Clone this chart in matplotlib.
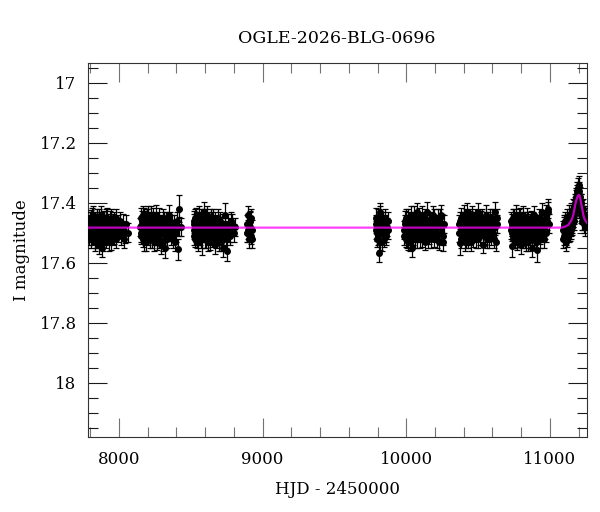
import matplotlib
matplotlib.use("Agg")
import matplotlib.pyplot as plt
from matplotlib.ticker import MultipleLocator, FuncFormatter

# observing seasons: (HJD-2450000, I mag, error)
season1 = [(7786,17.47,.030),(7790,17.50,.030),(7795,17.46,.028),(7799,17.49,.032),(7803,17.52,.030),
           (7806,17.45,.027),(7811,17.48,.031),(7815,17.51,.030),(7818,17.47,.029),(7822,17.44,.030),
           (7826,17.50,.033),(7830,17.53,.030),(7834,17.46,.028),(7837,17.49,.030),(7841,17.48,.031),
           (7845,17.45,.029),(7849,17.52,.030),(7853,17.47,.032),(7858,17.50,.028),(7862,17.54,.030),
           (7866,17.46,.029),(7870,17.49,.031),(7874,17.44,.030),(7879,17.55,.032),(7884,17.48,.030),
           (7889,17.51,.028),(7894,17.46,.031),(7899,17.49,.030),(7905,17.47,.029),(7911,17.52,.030),
           (7917,17.45,.031),(7923,17.50,.028),(7930,17.48,.030),(7937,17.46,.032),(7944,17.53,.029),
           (7952,17.49,.030),(7960,17.47,.031),(7968,17.51,.029),(7977,17.45,.030),(7986,17.48,.028),
           (7996,17.50,.031),(8007,17.46,.030),(8020,17.49,.029),(8035,17.52,.032),(8052,17.47,.030),
           (8065,17.50,.031),
           (7788,17.48,.030),(7793,17.51,.030),(7801,17.46,.029),(7808,17.50,.030),(7813,17.45,.031),
           (7820,17.49,.030),(7828,17.47,.029),(7832,17.50,.030),(7839,17.52,.031),(7847,17.46,.030),
           (7855,17.49,.029),(7860,17.45,.030),(7868,17.51,.031),(7876,17.48,.030),(7881,17.46,.029),
           (7887,17.53,.030),(7896,17.48,.031),(7902,17.51,.030),(7908,17.45,.029),(7914,17.49,.030),
           (7920,17.47,.031),(7927,17.53,.030),(7934,17.50,.029),(7941,17.45,.030),(7948,17.48,.031),
           (7956,17.51,.030),(7964,17.46,.029),(7973,17.49,.030),(7982,17.52,.031),(7991,17.47,.030),
           (8001,17.49,.029),(8013,17.51,.030),(8027,17.47,.031),(8044,17.50,.035)]
season2 = [(8148,17.48,.030),(8152,17.45,.031),(8156,17.51,.029),(8160,17.47,.030),(8164,17.50,.031),
           (8168,17.44,.030),(8172,17.49,.029),(8176,17.53,.030),(8180,17.46,.031),(8184,17.48,.030),
           (8188,17.51,.029),(8192,17.45,.030),(8196,17.50,.031),(8200,17.47,.030),(8205,17.44,.029),
           (8210,17.49,.030),(8215,17.52,.031),(8220,17.46,.030),(8225,17.48,.029),(8230,17.50,.030),
           (8236,17.45,.031),(8242,17.53,.030),(8248,17.47,.029),(8254,17.49,.030),(8260,17.44,.031),
           (8266,17.51,.030),(8272,17.46,.029),(8278,17.48,.030),(8284,17.50,.031),(8290,17.54,.030),
           (8297,17.47,.029),(8304,17.45,.030),(8311,17.49,.031),(8318,17.52,.030),(8321,17.55,.035),
           (8328,17.46,.030),(8335,17.50,.029),(8343,17.48,.030),(8351,17.44,.031),(8360,17.51,.030),
           (8370,17.47,.029),(8380,17.49,.030),(8392,17.53,.031),(8404,17.46,.030),(8410,17.555,.035),
           (8421,17.42,.045),(8432,17.48,.030),
           (8150,17.50,.030),(8158,17.46,.031),(8162,17.48,.030),(8166,17.52,.029),(8170,17.47,.030),
           (8174,17.45,.031),(8178,17.50,.030),(8182,17.49,.029),(8186,17.46,.030),(8190,17.53,.031),
           (8194,17.48,.030),(8198,17.45,.029),(8202,17.51,.030),(8208,17.48,.031),(8212,17.46,.030),
           (8218,17.50,.029),(8222,17.44,.030),(8228,17.52,.031),(8233,17.47,.030),(8239,17.49,.029),
           (8245,17.46,.030),(8251,17.51,.031),(8257,17.48,.030),(8263,17.53,.029),(8269,17.49,.030),
           (8275,17.45,.031),(8281,17.52,.030),(8287,17.47,.029),(8294,17.50,.030),(8300,17.48,.031),
           (8307,17.53,.030),(8314,17.46,.029),(8324,17.49,.030),(8331,17.52,.031),(8339,17.47,.030),
           (8347,17.50,.029),(8356,17.46,.030),(8365,17.49,.031),(8375,17.52,.030),(8386,17.47,.029),
           (8398,17.50,.030),(8416,17.48,.031)]
season3 = [(8519,17.49,.030),(8523,17.46,.031),(8527,17.52,.029),(8531,17.48,.030),(8535,17.45,.032),
           (8539,17.50,.030),(8543,17.47,.028),(8547,17.53,.031),(8551,17.46,.030),(8555,17.49,.029),
           (8559,17.44,.030),(8563,17.51,.031),(8567,17.48,.030),(8571,17.45,.028),(8575,17.50,.030),
           (8580,17.52,.055),(8585,17.47,.030),(8590,17.43,.031),(8595,17.49,.029),(8600,17.46,.030),
           (8605,17.52,.032),(8610,17.48,.030),(8615,17.44,.029),(8620,17.50,.031),(8626,17.47,.030),
           (8632,17.53,.028),(8638,17.45,.030),(8644,17.49,.031),(8650,17.46,.030),(8656,17.51,.029),
           (8662,17.48,.030),(8668,17.54,.031),(8675,17.47,.030),(8682,17.50,.032),(8689,17.45,.029),
           (8697,17.53,.030),(8705,17.48,.031),(8713,17.51,.030),(8722,17.55,.031),(8731,17.49,.030),
           (8740,17.44,.040),(8751,17.56,.035),(8763,17.50,.030),(8776,17.48,.029),(8790,17.47,.031),
           (8805,17.48,.030),
           (8521,17.51,.030),(8525,17.47,.031),(8529,17.45,.030),(8533,17.50,.029),(8537,17.48,.030),
           (8541,17.52,.031),(8545,17.46,.030),(8549,17.49,.029),(8553,17.51,.030),(8557,17.47,.031),
           (8561,17.49,.030),(8565,17.46,.029),(8569,17.52,.030),(8573,17.47,.031),(8578,17.49,.030),
           (8583,17.45,.029),(8588,17.50,.030),(8593,17.47,.031),(8598,17.52,.030),(8603,17.45,.029),
           (8608,17.50,.030),(8613,17.47,.031),(8618,17.53,.030),(8623,17.46,.029),(8629,17.49,.030),
           (8635,17.51,.031),(8641,17.47,.030),(8647,17.52,.029),(8653,17.45,.030),(8659,17.50,.031),
           (8665,17.46,.030),(8671,17.49,.029),(8678,17.52,.030),(8686,17.48,.031),(8693,17.50,.030),
           (8701,17.46,.029),(8709,17.53,.030),(8717,17.47,.031),(8726,17.51,.030),(8736,17.48,.029),
           (8746,17.52,.030),(8757,17.47,.031),(8770,17.51,.030),(8783,17.46,.029),(8798,17.50,.030)]
season4 = [(8892,17.47,.028),(8895,17.50,.030),(8898,17.44,.029),(8901,17.49,.031),(8905,17.52,.030),
           (8909,17.46,.028),(8913,17.48,.030),(8917,17.51,.029),(8921,17.45,.030),(8925,17.49,.031),
           (8893,17.50,.030),(8900,17.47,.029),(8907,17.49,.030),(8915,17.46,.031),(8923,17.52,.030)]
season5 = [(9787,17.49,.030),(9792,17.45,.031),(9797,17.52,.029),(9802,17.47,.030),(9808,17.567,.030),
           (9813,17.50,.031),(9818,17.44,.030),(9820,17.43,.030),(9824,17.48,.029),(9830,17.53,.031),
           (9836,17.46,.030),(9843,17.50,.030),(9850,17.47,.029),(9858,17.51,.031),(9867,17.48,.030),
           (9876,17.49,.031),
           (9789,17.47,.030),(9795,17.50,.029),(9800,17.45,.030),(9805,17.51,.031),(9811,17.48,.030),
           (9816,17.53,.029),(9827,17.46,.030),(9833,17.50,.031),(9840,17.47,.030),(9847,17.52,.029),
           (9854,17.45,.030),(9862,17.50,.031),(9871,17.46,.030)]
season6 = [(9985,17.49,.030),(9990,17.46,.031),(9995,17.52,.029),(10000,17.48,.030),(10005,17.50,.031),
           (10010,17.45,.030),(10015,17.53,.029),(10020,17.47,.030),(10025,17.49,.031),(10030,17.44,.030),
           (10036,17.51,.029),(10042,17.55,.031),(10048,17.48,.030),(10054,17.46,.029),(10060,17.52,.030),
           (10066,17.47,.031),(10072,17.43,.030),(10078,17.50,.029),(10084,17.48,.030),(10090,17.45,.031),
           (10097,17.52,.030),(10104,17.47,.029),(10111,17.44,.030),(10118,17.50,.031),(10125,17.46,.030),
           (10132,17.53,.029),(10139,17.48,.030),(10146,17.43,.031),(10153,17.49,.030),(10160,17.51,.029),
           (10168,17.46,.030),(10176,17.48,.031),(10184,17.44,.030),(10192,17.52,.029),(10200,17.47,.030),
           (10209,17.50,.031),(10218,17.45,.030),(10227,17.53,.029),(10236,17.48,.030),(10245,17.44,.031),
           (10254,17.51,.030),(10262,17.47,.030),
           (9987,17.51,.030),(9993,17.47,.029),(9998,17.45,.030),(10003,17.52,.031),(10008,17.48,.030),
           (10013,17.46,.029),(10018,17.50,.030),(10023,17.53,.031),(10028,17.47,.030),(10033,17.49,.029),
           (10039,17.46,.030),(10045,17.51,.031),(10051,17.49,.030),(10057,17.44,.029),(10063,17.50,.030),
           (10069,17.48,.031),(10075,17.52,.030),(10081,17.46,.029),(10087,17.50,.030),(10094,17.47,.031),
           (10101,17.49,.030),(10108,17.52,.029),(10115,17.47,.030),(10122,17.49,.031),(10129,17.45,.030),
           (10136,17.50,.029),(10143,17.47,.030),(10150,17.52,.031),(10157,17.46,.030),(10164,17.49,.029),
           (10172,17.52,.030),(10180,17.47,.031),(10188,17.49,.030),(10196,17.45,.029),(10205,17.48,.030),
           (10214,17.52,.031),(10223,17.47,.030),(10232,17.45,.029),(10241,17.50,.030),(10250,17.47,.031),
           (10259,17.53,.030)]
season7 = [(10368,17.47,.030),(10374,17.533,.040),(10379,17.49,.030),(10384,17.45,.031),(10389,17.51,.029),
           (10394,17.48,.030),(10399,17.44,.031),(10404,17.50,.030),(10409,17.46,.029),(10414,17.52,.030),
           (10419,17.48,.031),(10424,17.43,.030),(10430,17.49,.029),(10436,17.51,.030),(10442,17.46,.031),
           (10448,17.53,.030),(10454,17.47,.029),(10460,17.44,.030),(10466,17.50,.031),(10472,17.48,.030),
           (10478,17.45,.029),(10485,17.52,.030),(10492,17.47,.031),(10499,17.43,.030),(10506,17.49,.029),
           (10513,17.51,.030),(10520,17.46,.031),(10528,17.48,.030),(10536,17.54,.029),(10544,17.47,.030),
           (10552,17.44,.031),(10560,17.50,.030),(10568,17.46,.029),(10577,17.52,.030),(10586,17.48,.031),
           (10595,17.45,.030),(10605,17.50,.029),(10615,17.43,.031),(10625,17.53,.030),(10634,17.47,.030),
           (10370,17.50,.030),(10376,17.46,.029),(10381,17.52,.030),(10386,17.48,.031),(10391,17.46,.030),
           (10396,17.51,.029),(10401,17.47,.030),(10406,17.53,.031),(10411,17.49,.030),(10416,17.45,.029),
           (10421,17.50,.030),(10427,17.47,.031),(10433,17.52,.030),(10439,17.48,.029),(10445,17.45,.030),
           (10451,17.50,.031),(10457,17.48,.030),(10463,17.52,.029),(10469,17.46,.030),(10475,17.49,.031),
           (10481,17.47,.030),(10488,17.50,.029),(10495,17.46,.030),(10502,17.52,.031),(10509,17.47,.030),
           (10516,17.49,.029),(10524,17.45,.030),(10532,17.50,.031),(10540,17.48,.030),(10548,17.51,.029),
           (10556,17.46,.030),(10564,17.52,.031),(10572,17.48,.030),(10581,17.45,.029),(10590,17.51,.030),
           (10600,17.47,.031),(10610,17.52,.030),(10620,17.48,.029),(10630,17.45,.030)]
season8 = [(10729,17.49,.030),(10733,17.545,.035),(10737,17.47,.031),(10741,17.51,.029),(10745,17.45,.030),
           (10749,17.49,.031),(10753,17.52,.030),(10757,17.46,.029),(10761,17.48,.030),(10765,17.44,.031),
           (10769,17.50,.030),(10773,17.53,.029),(10777,17.47,.030),(10781,17.49,.031),(10785,17.45,.030),
           (10790,17.51,.029),(10795,17.48,.030),(10800,17.54,.031),(10805,17.46,.030),(10810,17.50,.029),
           (10815,17.44,.030),(10820,17.48,.031),(10826,17.52,.030),(10832,17.47,.029),(10838,17.49,.030),
           (10844,17.45,.031),(10850,17.53,.030),(10856,17.48,.029),(10862,17.50,.030),(10868,17.46,.031),
           (10875,17.55,.030),(10882,17.49,.029),(10889,17.44,.030),(10896,17.51,.031),(10903,17.47,.030),
           (10907,17.558,.040),(10914,17.50,.030),(10921,17.45,.029),(10928,17.52,.031),(10936,17.48,.030),
           (10944,17.43,.030),(10952,17.50,.031),(10960,17.46,.029),(10968,17.49,.030),(10976,17.44,.032),
           (10984,17.43,.033),(10992,17.47,.031),
           (10731,17.46,.030),(10735,17.50,.029),(10739,17.48,.030),(10743,17.52,.031),(10747,17.47,.030),
           (10751,17.45,.029),(10755,17.50,.030),(10759,17.52,.031),(10763,17.47,.030),(10767,17.49,.029),
           (10771,17.46,.030),(10775,17.51,.031),(10779,17.48,.030),(10783,17.52,.029),(10788,17.47,.030),
           (10793,17.45,.031),(10798,17.50,.030),(10803,17.48,.029),(10808,17.52,.030),(10813,17.47,.031),
           (10818,17.51,.030),(10823,17.46,.029),(10829,17.49,.030),(10835,17.53,.031),(10841,17.48,.030),
           (10847,17.46,.029),(10853,17.51,.030),(10859,17.47,.031),(10865,17.52,.030),(10872,17.48,.029),
           (10879,17.46,.030),(10886,17.52,.031),(10893,17.48,.030),(10900,17.53,.029),(10910,17.47,.030),
           (10918,17.50,.031),(10925,17.47,.030),(10932,17.51,.029),(10940,17.46,.030),(10948,17.48,.031),
           (10956,17.52,.030),(10964,17.47,.029),(10972,17.50,.030),(10980,17.46,.031),(10988,17.42,.032)]
season9 = [(11092,17.49,.030),(11096,17.47,.030),(11100,17.51,.031),(11104,17.46,.030),(11108,17.50,.029),
           (11112,17.53,.030),(11116,17.48,.031),(11120,17.45,.030),(11124,17.50,.029),(11128,17.47,.030),
           (11132,17.44,.031),(11136,17.49,.030),(11140,17.46,.029),(11144,17.48,.030),(11148,17.44,.031),
           (11152,17.47,.030),(11156,17.43,.029),(11160,17.45,.030),(11164,17.42,.031),(11168,17.44,.030),
           (11172,17.40,.029),(11176,17.43,.030),(11180,17.39,.031),(11184,17.41,.030),(11188,17.37,.029),
           (11192,17.40,.030),(11196,17.35,.031),(11200,17.38,.030),(11204,17.36,.029),(11208,17.40,.030),
           (11212,17.38,.031),(11216,17.42,.030),(11220,17.40,.029),(11224,17.44,.030),(11228,17.42,.031),
           (11232,17.46,.030),(11236,17.44,.029),(11240,17.47,.030),(11244,17.45,.031),(11248,17.48,.030),
           (11252,17.46,.030),
           (11094,17.52,.030),(11098,17.48,.031),(11102,17.50,.030),(11106,17.47,.029),(11110,17.49,.030),
           (11114,17.51,.031),(11118,17.47,.030),(11122,17.52,.029),(11126,17.48,.030),(11130,17.50,.031),
           (11134,17.46,.030),(11138,17.50,.029),(11142,17.45,.030),(11146,17.49,.031),(11150,17.46,.030),
           (11154,17.48,.029),(11158,17.45,.030),(11162,17.44,.031),(11166,17.46,.030),(11170,17.42,.029),
           (11174,17.41,.030),(11178,17.42,.031),(11182,17.38,.030),(11186,17.40,.029),(11190,17.36,.030),
           (11194,17.38,.031),(11198,17.37,.030),(11202,17.34,.029),(11206,17.39,.030),(11210,17.41,.031),
           (11214,17.40,.030),(11218,17.44,.029),(11222,17.42,.030),(11226,17.46,.031),(11230,17.44,.030)]
seasons = [season1, season2, season3, season4, season5, season6, season7, season8, season9]

# model curve
model_t = [7782, 11050, 11081, 11105, 11128, 11151, 11163, 11174, 11182, 11190, 11196, 11202,
           11208, 11216, 11225, 11233, 11242, 11251, 11258]
model_m = [17.483, 17.483, 17.483, 17.480, 17.474, 17.458, 17.440, 17.413, 17.395, 17.382, 17.376, 17.374,
           17.378, 17.397, 17.420, 17.441, 17.455, 17.463, 17.467]

plt.rcParams["font.family"] = "DejaVu Serif"

fig = plt.figure(figsize=(6, 5.12), dpi=100)
ax = fig.add_axes([0.1462, 0.1471, 0.8313, 0.7305])

for season in seasons:
    t, m, e = zip(*season)
    ax.errorbar(t, m, yerr=e, fmt="o", color="black", ms=4,
                elinewidth=0.9, capsize=2.3, capthick=0.9, zorder=3)

ax.plot(model_t, model_m, color="magenta", lw=1.6, alpha=0.75, zorder=5)

ax.set_xlim(7782, 11255)
ax.set_ylim(18.18, 16.933)

ax.xaxis.set_major_locator(MultipleLocator(1000))
ax.xaxis.set_minor_locator(MultipleLocator(200))
ax.yaxis.set_major_locator(MultipleLocator(0.2))
ax.yaxis.set_minor_locator(MultipleLocator(0.05))
ax.yaxis.set_major_formatter(FuncFormatter(lambda v, p: "%g" % round(v, 2)))

ax.tick_params(which="both", direction="in", top=True, right=True, labelsize=12)
ax.tick_params(which="major", length=13.5, width=0.8)
ax.tick_params(which="minor", length=7, width=0.8)
ax.tick_params(axis="x", which="both", color="0.45", pad=10)
ax.tick_params(axis="y", which="both", color="0.1", pad=8)
for sp in ax.spines.values():
    sp.set_linewidth(0.8)
    sp.set_color("0.2")

ax.set_title("OGLE-2026-BLG-0696", fontsize=12.5, pad=14)
ax.set_xlabel("HJD - 2450000", fontsize=12)
ax.xaxis.set_label_coords(0.5, -0.118)
ax.set_ylabel("I magnitude", fontsize=12)
ax.yaxis.set_label_coords(-0.116, 0.5)

fig.savefig("out.png", dpi=100)
